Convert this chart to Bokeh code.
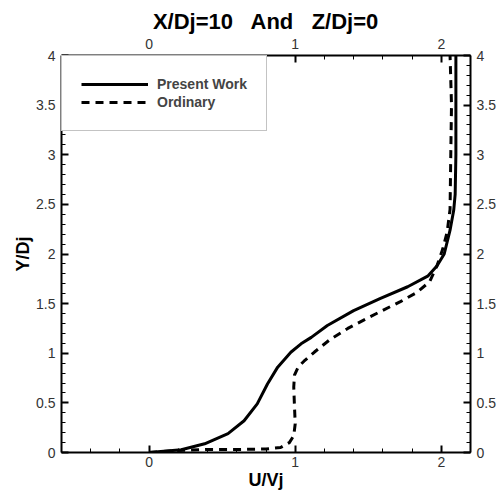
from bokeh.plotting import figure
from bokeh.models import (Range1d, LinearAxis, SingleIntervalTicker, CustomJSTickFormatter,
                          Legend, LegendItem, Title)
from bokeh.embed import file_html
from bokeh.resources import INLINE

# Present Work (solid)
present_u = [0, 0.22, 0.38, 0.54, 0.65, 0.74, 0.81, 0.88, 0.97, 1.04, 1.11, 1.22,
             1.40, 1.58, 1.77, 1.91, 1.97, 2.02, 2.06, 2.085, 2.095, 2.10, 2.10]
present_y = [0, 0.027, 0.088, 0.19, 0.32, 0.49, 0.69, 0.86, 1.01, 1.095, 1.16, 1.28,
             1.43, 1.55, 1.67, 1.78, 1.88, 2.0, 2.24, 2.44, 2.6, 3.0, 4.0]

# Ordinary (dashed)
ordinary_u = [0, 0.2, 0.4, 0.6, 0.8, 0.9, 0.96, 0.99, 1.0, 0.995, 0.99, 0.995, 1.02,
              1.06, 1.13, 1.24, 1.36, 1.49, 1.61, 1.72, 1.83, 1.92, 1.97, 2.01, 2.04,
              2.06, 2.065, 2.07, 2.06]
ordinary_y = [0, 0.02, 0.03, 0.03, 0.035, 0.05, 0.1, 0.17, 0.29, 0.46, 0.66, 0.78, 0.86,
              0.92, 1.01, 1.14, 1.25, 1.35, 1.44, 1.52, 1.61, 1.72, 1.88, 2.05, 2.22,
              2.45, 3.0, 3.5, 4.0]

FONT = "Liberation Sans"
NB = "\u00a0"
TITLE = "X/Dj=10" + NB * 2 + " And" + NB * 2 + " Z/Dj=0"

p = figure(width=499, height=492, output_backend="svg", toolbar_location=None,
           x_range=Range1d(-0.6, 2.2), y_range=Range1d(0, 4),
           min_border_left=61, min_border_right=29, min_border_top=55, min_border_bottom=40,
           outline_line_color=None)
p.xgrid.visible = False
p.ygrid.visible = False

p.title = Title(text=TITLE, align="center", text_font=FONT,
                text_font_size="22px", text_font_style="bold", text_color="black",
                standoff=3)

fmt = CustomJSTickFormatter(code="return String(Math.round(tick*100)/100);")

def style(ax, label=None, standoff=6, label_standoff=3):
    ax.axis_line_width = 2
    ax.axis_line_color = "black"
    ax.major_tick_in = 7
    ax.major_tick_out = 0
    ax.minor_tick_in = 4
    ax.minor_tick_out = 0
    ax.major_tick_line_width = 2
    ax.minor_tick_line_width = 1
    ax.major_label_text_font = FONT
    ax.major_label_text_font_size = "14px"
    ax.major_label_text_color = "#333333"
    ax.major_label_standoff = standoff
    ax.formatter = fmt
    if label:
        ax.axis_label = label
        ax.axis_label_text_font = FONT
        ax.axis_label_text_font_size = "18px"
        ax.axis_label_text_font_style = "bold"
        ax.axis_label_text_color = "black"
        ax.axis_label_standoff = label_standoff

p.xaxis.ticker = SingleIntervalTicker(interval=1, num_minor_ticks=5)
p.yaxis.ticker = SingleIntervalTicker(interval=0.5, num_minor_ticks=5)
style(p.xaxis[0], "U/Vj", standoff=4, label_standoff=0)
style(p.yaxis[0], "Y/Dj", standoff=6, label_standoff=0)

top = LinearAxis(ticker=SingleIntervalTicker(interval=1, num_minor_ticks=5))
style(top, standoff=7)
p.add_layout(top, "above")
right = LinearAxis(ticker=SingleIntervalTicker(interval=0.5, num_minor_ticks=5))
style(right, standoff=6)
p.add_layout(right, "right")

r1 = p.line(present_u, present_y, line_color="black", line_width=3)
r2 = p.line(ordinary_u, ordinary_y, line_color="black", line_width=3, line_dash="8 6")

legend = Legend(items=[LegendItem(label="Present Work", renderers=[r1]),
                       LegendItem(label="Ordinary", renderers=[r2])],
                location="top_left", margin=0, padding=19, spacing=0,
                label_height=18, glyph_height=18, glyph_width=67, label_standoff=9,
                border_line_color="#888888", border_line_width=1.5,
                label_text_font=FONT, label_text_font_style="bold",
                label_text_font_size="14px", background_fill_alpha=1)
p.add_layout(legend, "center")

open("out.html", "w").write(file_html(p, INLINE))
